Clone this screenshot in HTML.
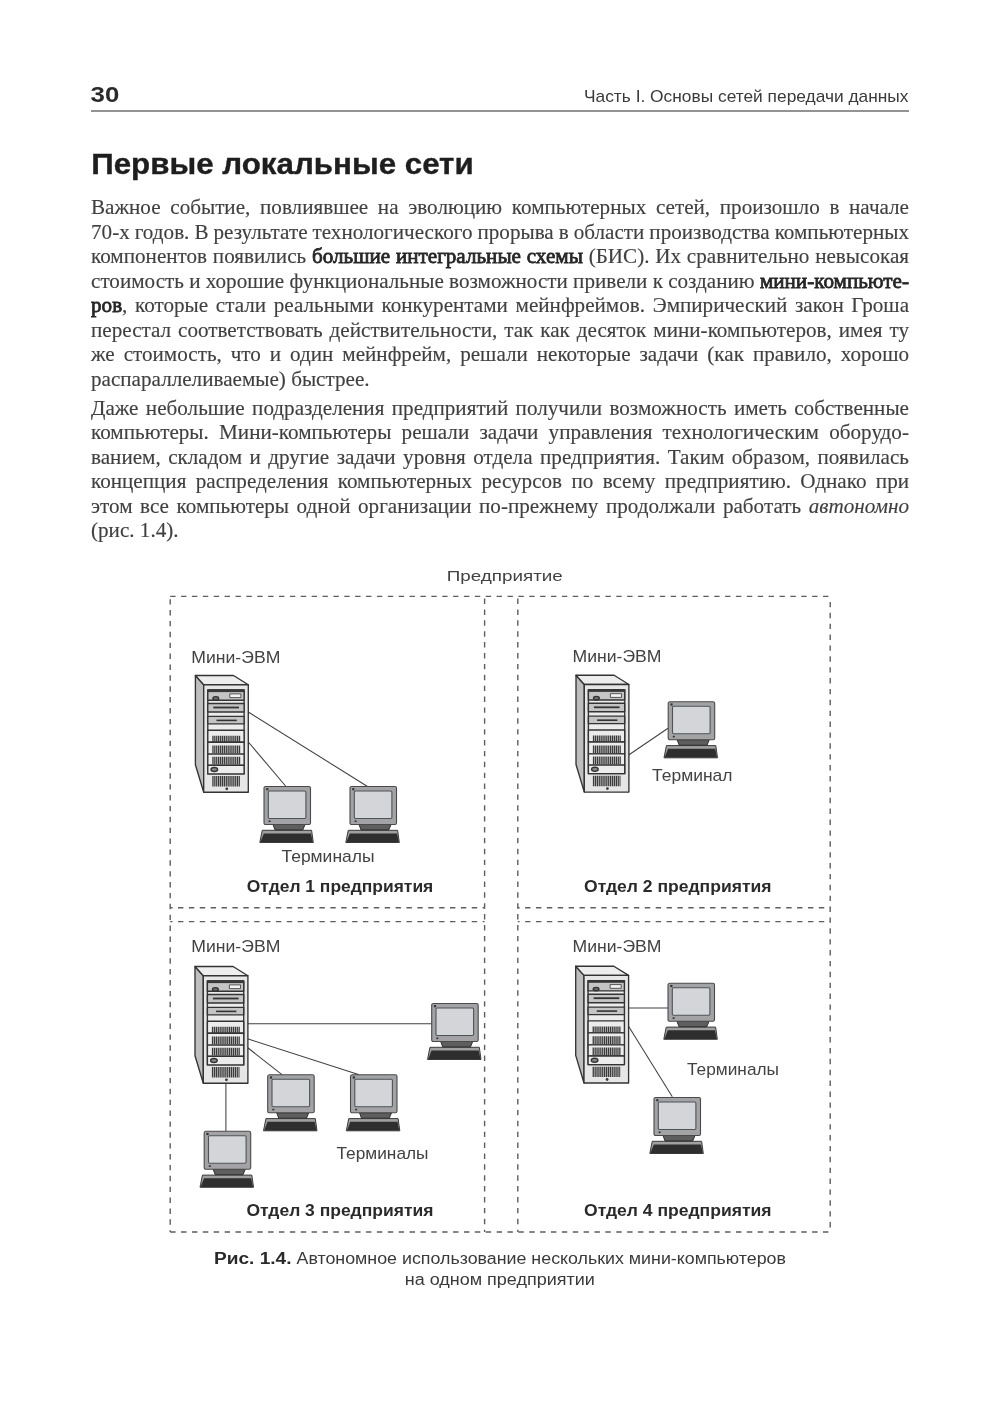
<!DOCTYPE html>
<html><head><meta charset="utf-8">
<style>
html,body{margin:0;padding:0;background:#fff;}
body{width:1000px;height:1413px;position:relative;overflow:hidden;filter:blur(0.4px);}
#rule{position:absolute;left:91px;top:110px;width:818px;height:2px;background:#939393;}
.para{-webkit-text-stroke:0.15px #404040;position:absolute;left:91px;width:818px;font-family:"Liberation Serif",serif;font-size:22px;line-height:24.5px;color:#404040;}
.para div{white-space:nowrap;height:24.5px;width:851.8px;transform:scaleX(0.9603);transform-origin:0 0;}
.para div.last{text-align:left;text-align-last:left;}
#p1{top:195.1px;}
#p2{top:395.6px;}
b{font-weight:normal;color:#262626;-webkit-text-stroke:0.8px #262626;}
</style></head><body>
<div id="rule"></div>
<div class="para" id="p1">
<div style="word-spacing:4.59px">Важное событие, повлиявшее на эволюцию компьютерных сетей, произошло в начале</div>
<div style="word-spacing:-0.29px">70-х годов. В результате технологического прорыва в области производства компьютерных</div>
<div style="word-spacing:0.52px">компонентов появились <b>большие интегральные схемы</b> (БИС). Их сравнительно невысокая</div>
<div style="word-spacing:-0.01px">стоимость и хорошие функциональные возможности привели к созданию <b>мини-компьюте-</b></div>
<div style="word-spacing:2.47px"><b>ров</b>, которые стали реальными конкурентами мейнфреймов. Эмпирический закон Гроша</div>
<div style="word-spacing:1.73px">перестал соответствовать действительности, так как десяток мини-компьютеров, имея ту</div>
<div style="word-spacing:3.80px">же стоимость, что и один мейнфрейм, решали некоторые задачи (как правило, хорошо</div>
<div class="last">распараллеливаемые) быстрее.</div>
</div>
<div class="para" id="p2">
<div style="word-spacing:2.19px">Даже небольшие подразделения предприятий получили возможность иметь собственные</div>
<div style="word-spacing:5.16px">компьютеры. Мини-компьютеры решали задачи управления технологическим оборудо-</div>
<div style="word-spacing:2.28px">ванием, складом и другие задачи уровня отдела предприятия. Таким образом, появилась</div>
<div style="word-spacing:4.23px">концепция распределения компьютерных ресурсов по всему предприятию. Однако при</div>
<div style="word-spacing:2.37px">этом все компьютеры одной организации по-прежнему продолжали работать <i>автономно</i></div>
<div class="last">(рис. 1.4).</div>
</div>
<!--DIAGRAM-->
<svg id="dg" width="1000" height="1413" viewBox="0 0 1000 1413" style="position:absolute;left:0;top:0">
<defs>
<g id="srv" stroke="#333" stroke-width="1.35" stroke-linejoin="round">
<polygon points="0,0 8.3,9.2 8.3,116.8 0,89.2" fill="#bebebe"/>
<polygon points="0,0 38.1,0 52.9,9.2 8.3,9.2" fill="#ededed"/>
<rect x="8.3" y="9.2" width="44.6" height="107.6" fill="#e6e6e6"/>
<rect x="12.4" y="14.4" width="36.3" height="84" fill="#ececec"/>
<rect x="12.4" y="14.4" width="36.3" height="10.3" fill="#c4c4c4"/>
<rect x="12.4" y="14.4" width="36.3" height="2.2" fill="#383838" stroke="none"/>
<ellipse cx="20.4" cy="22.9" rx="2.9" ry="1.8" fill="#6a6a6a"/>
<rect x="34.4" y="18.4" width="11.1" height="3.7" fill="#f4f4f4" stroke-width="0.8"/>
<rect x="12.4" y="28" width="36.3" height="8.5" fill="#c4c4c4"/>
<line x1="17.9" y1="32" x2="43.6" y2="32" stroke-width="1.8"/>
<rect x="12.4" y="40.9" width="36.3" height="7.5" fill="#c4c4c4"/>
<line x1="21.1" y1="44.9" x2="41.4" y2="44.9" stroke-width="1.6"/>
<rect x="12.4" y="54.7" width="36.3" height="12" fill="#ececec"/>
<rect x="12.4" y="66.7" width="36.3" height="11.9" fill="#ececec"/>
<rect x="12.4" y="78.6" width="36.3" height="11.2" fill="#ececec"/>
<rect x="12.4" y="89.8" width="36.3" height="8.6" fill="#ececec"/>
<ellipse cx="18.9" cy="94" rx="3.3" ry="2" fill="#8a8a8a"/>
<g stroke="#3a3a3a" stroke-dasharray="1.3 0.6" stroke-linejoin="miter">
<line x1="16.9" y1="63.4" x2="44.9" y2="63.4" stroke-width="6.4"/>
<line x1="16.9" y1="73.9" x2="44.9" y2="73.9" stroke-width="7.6"/>
<line x1="16.9" y1="85.2" x2="44.9" y2="85.2" stroke-width="7.8"/>
<line x1="16.9" y1="105.7" x2="44.5" y2="105.7" stroke-width="10.4"/>
</g>
<circle cx="31.4" cy="113.3" r="1.4" fill="#383838" stroke="none"/>
</g>
<g id="trm" stroke-linejoin="round">
<polygon points="-1.75,43.8 47.6,43.8 49.3,56 -4.2,56" fill="#a0a0a0" stroke="#3a3a3a" stroke-width="1"/>
<polygon points="-0.2,46.9 47,46.9 48.8,55.6 -3.6,55.6" fill="#2e2e2e" stroke="none"/>
<polygon points="9,38 41,38 38.8,43.4 11,43.4" fill="#5e5e5e" stroke="#303030" stroke-width="1"/>
<rect x="0" y="0" width="46.5" height="38" rx="1.6" fill="#a3a3a6" stroke="#4a4a4a" stroke-width="1.1"/>
<rect x="4.3" y="4.5" width="37.6" height="27.5" rx="1.2" fill="#d4d5d8" stroke="#4c5458" stroke-width="1.1"/>
<rect x="2.2" y="1.6" width="2.2" height="2.2" fill="#333" stroke="none"/>
<rect x="4.6" y="34" width="2" height="1.6" fill="#333" stroke="none"/>
</g>
</defs>
<g stroke="#5e5e5e" stroke-width="1.4" stroke-dasharray="5.4 5.48" fill="none">
<line x1="170.2" y1="596.4" x2="830.2" y2="596.4" stroke-dashoffset="0.00"/>
<line x1="170.2" y1="1232" x2="830.2" y2="1232" stroke-dashoffset="0.00"/>
<line x1="170.2" y1="596.4" x2="170.2" y2="1232" stroke-dashoffset="8.08"/>
<line x1="830.2" y1="596.4" x2="830.2" y2="1232" stroke-dashoffset="5.38"/>
<line x1="484.6" y1="596.4" x2="484.6" y2="1232" stroke-dashoffset="8.68"/>
<line x1="517.8" y1="596.4" x2="517.8" y2="1232" stroke-dashoffset="8.68"/>
<line x1="170.2" y1="907.8" x2="484.6" y2="907.8" stroke-dashoffset="3.08"/>
<line x1="170.2" y1="921.6" x2="484.6" y2="921.6" stroke-dashoffset="3.08"/>
<line x1="517.8" y1="907.8" x2="830.2" y2="907.8" stroke-dashoffset="3.58"/>
<line x1="517.8" y1="921.6" x2="830.2" y2="921.6" stroke-dashoffset="3.58"/>
</g>
<g stroke="#404040" stroke-width="1.05" fill="none">
<line x1="247.5" y1="711.5" x2="367.5" y2="786.5"/>
<line x1="247.5" y1="741" x2="286" y2="786.5"/>
<line x1="628.3" y1="755.2" x2="668" y2="728.2"/>
<line x1="246.8" y1="1023.7" x2="431.7" y2="1023.7"/>
<line x1="246.8" y1="1038.6" x2="359.2" y2="1074.8"/>
<line x1="246.8" y1="1047" x2="282.3" y2="1074.8"/>
<line x1="225.9" y1="1081" x2="225.9" y2="1131.3"/>
<line x1="628.4" y1="1008" x2="668" y2="1008"/>
<line x1="628.4" y1="1026" x2="672.3" y2="1096.8"/>
</g>
<use href="#srv" x="195.4" y="675.5"/>
<use href="#srv" x="576" y="675.3"/>
<use href="#srv" x="195" y="966.5"/>
<use href="#srv" x="575.7" y="966.2"/>
<use href="#trm" x="264" y="786.5"/>
<use href="#trm" x="350" y="786.5"/>
<use href="#trm" x="668.2" y="701.8"/>
<use href="#trm" x="431.7" y="1003.5"/>
<use href="#trm" x="267.7" y="1074.8"/>
<use href="#trm" x="350.5" y="1074.8"/>
<use href="#trm" x="204.2" y="1131.3"/>
<use href="#trm" x="668" y="983.3"/>
<use href="#trm" x="654" y="1097.5"/>
<g font-family="Liberation Sans, sans-serif" fill="#424242">
<text x="446.8" y="581" font-size="13.9" textLength="116" lengthAdjust="spacingAndGlyphs">Предприятие</text>
<g font-size="17">
<text x="191.3" y="662.8" textLength="89" lengthAdjust="spacingAndGlyphs">Мини-ЭВМ</text>
<text x="572.5" y="662.4" textLength="89" lengthAdjust="spacingAndGlyphs">Мини-ЭВМ</text>
<text x="191.3" y="951.8" textLength="89" lengthAdjust="spacingAndGlyphs">Мини-ЭВМ</text>
<text x="572.5" y="951.6" textLength="89" lengthAdjust="spacingAndGlyphs">Мини-ЭВМ</text>
<text x="281.5" y="862" textLength="93" lengthAdjust="spacingAndGlyphs">Терминалы</text>
<text x="652" y="781.4" textLength="80.5" lengthAdjust="spacingAndGlyphs">Терминал</text>
<text x="336.5" y="1158.5" textLength="92" lengthAdjust="spacingAndGlyphs">Терминалы</text>
<text x="687" y="1075.2" textLength="92" lengthAdjust="spacingAndGlyphs">Терминалы</text>
</g>
<g font-size="16.5" font-weight="bold" fill="#2a2a2a">
<text x="246.8" y="892" textLength="186.5" lengthAdjust="spacingAndGlyphs">Отдел 1 предприятия</text>
<text x="584" y="892" textLength="187.5" lengthAdjust="spacingAndGlyphs">Отдел 2 предприятия</text>
<text x="246.4" y="1215.6" textLength="187" lengthAdjust="spacingAndGlyphs">Отдел 3 предприятия</text>
<text x="584" y="1215.6" textLength="187.5" lengthAdjust="spacingAndGlyphs">Отдел 4 предприятия</text>
</g>
</g>
<g font-family="Liberation Sans, sans-serif">
<text x="90.6" y="101.8" font-size="21.6" font-weight="bold" fill="#2a2a2a" textLength="28.7" lengthAdjust="spacingAndGlyphs">30</text>
<text x="584" y="102" font-size="17" fill="#3a3a3a" textLength="324.5" lengthAdjust="spacingAndGlyphs">Часть I. Основы сетей передачи данных</text>
<text x="91.2" y="174.2" font-size="28.9" font-weight="bold" fill="#1e1e1e" stroke="#1e1e1e" stroke-width="0.35" textLength="382.5" lengthAdjust="spacingAndGlyphs">Первые локальные сети</text>
<text x="214" y="1264" font-size="16" font-weight="bold" fill="#2a2a2a" textLength="77.5" lengthAdjust="spacingAndGlyphs">Рис. 1.4.</text>
<text x="296.5" y="1264" font-size="16" fill="#3a3a3a" textLength="489.5" lengthAdjust="spacingAndGlyphs">Автономное использование нескольких мини-компьютеров</text>
<text x="404.8" y="1285" font-size="16" fill="#3a3a3a" textLength="190" lengthAdjust="spacingAndGlyphs">на одном предприятии</text>
</g>
</svg>

</body></html>
